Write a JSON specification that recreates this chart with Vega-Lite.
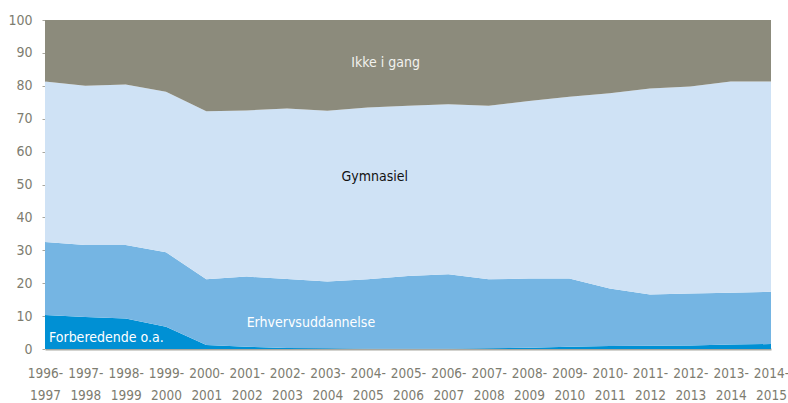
{
  "$schema": "https://vega.github.io/schema/vega-lite/v6.json",
  "width": 726,
  "height": 329,
  "autosize": {"type": "none"},
  "padding": {"left": 45, "top": 20, "right": 17, "bottom": 54},
  "background": "white",
  "config": {
    "view": {"stroke": null},
    "font": "DejaVu Sans Condensed",
    "axisX": {
      "title": null, "labelAngle": 0,
      "labelExpr": "[slice(datum.value,0,5), slice(datum.value,5)]",
      "labelFontSize": 13.5, "labelColor": "#7d7c70", "labelLineHeight": 22,
      "labelPadding": 17, "ticks": false, "labelOverlap": false,
      "domainColor": "#a8a79f", "domainWidth": 2
    },
    "axisY": {
      "title": null, "tickCount": 10,
      "grid": false, "labelFontSize": 14, "labelColor": "#7d7c70",
      "labelOverlap": false, "labelFlush": false,
      "labelPadding": 10, "tickSize": 3, "tickColor": "#a8a79f",
      "domainColor": "#d0cfc8", "domainWidth": 1
    }
  },
  "datasets": {
    "main": [
      {"yr": "1996-1997", "cat": "Forberedende o.a.", "ord": 1, "v": 10.3},
      {"yr": "1996-1997", "cat": "Erhvervsuddannelse", "ord": 2, "v": 22.2},
      {"yr": "1996-1997", "cat": "Gymnasiel", "ord": 3, "v": 48.8},
      {"yr": "1996-1997", "cat": "Ikke i gang", "ord": 4, "v": 18.7},
      {"yr": "1997-1998", "cat": "Forberedende o.a.", "ord": 1, "v": 9.7},
      {"yr": "1997-1998", "cat": "Erhvervsuddannelse", "ord": 2, "v": 21.9},
      {"yr": "1997-1998", "cat": "Gymnasiel", "ord": 3, "v": 48.4},
      {"yr": "1997-1998", "cat": "Ikke i gang", "ord": 4, "v": 20.0},
      {"yr": "1998-1999", "cat": "Forberedende o.a.", "ord": 1, "v": 9.3},
      {"yr": "1998-1999", "cat": "Erhvervsuddannelse", "ord": 2, "v": 22.3},
      {"yr": "1998-1999", "cat": "Gymnasiel", "ord": 3, "v": 48.8},
      {"yr": "1998-1999", "cat": "Ikke i gang", "ord": 4, "v": 19.6},
      {"yr": "1999-2000", "cat": "Forberedende o.a.", "ord": 1, "v": 6.8},
      {"yr": "1999-2000", "cat": "Erhvervsuddannelse", "ord": 2, "v": 22.6},
      {"yr": "1999-2000", "cat": "Gymnasiel", "ord": 3, "v": 48.8},
      {"yr": "1999-2000", "cat": "Ikke i gang", "ord": 4, "v": 21.8},
      {"yr": "2000-2001", "cat": "Forberedende o.a.", "ord": 1, "v": 1.2},
      {"yr": "2000-2001", "cat": "Erhvervsuddannelse", "ord": 2, "v": 20.0},
      {"yr": "2000-2001", "cat": "Gymnasiel", "ord": 3, "v": 51.1},
      {"yr": "2000-2001", "cat": "Ikke i gang", "ord": 4, "v": 27.7},
      {"yr": "2001-2002", "cat": "Forberedende o.a.", "ord": 1, "v": 0.7},
      {"yr": "2001-2002", "cat": "Erhvervsuddannelse", "ord": 2, "v": 21.3},
      {"yr": "2001-2002", "cat": "Gymnasiel", "ord": 3, "v": 50.5},
      {"yr": "2001-2002", "cat": "Ikke i gang", "ord": 4, "v": 27.5},
      {"yr": "2002-2003", "cat": "Forberedende o.a.", "ord": 1, "v": 0.3},
      {"yr": "2002-2003", "cat": "Erhvervsuddannelse", "ord": 2, "v": 21.0},
      {"yr": "2002-2003", "cat": "Gymnasiel", "ord": 3, "v": 51.8},
      {"yr": "2002-2003", "cat": "Ikke i gang", "ord": 4, "v": 26.9},
      {"yr": "2003-2004", "cat": "Forberedende o.a.", "ord": 1, "v": 0.2},
      {"yr": "2003-2004", "cat": "Erhvervsuddannelse", "ord": 2, "v": 20.3},
      {"yr": "2003-2004", "cat": "Gymnasiel", "ord": 3, "v": 51.9},
      {"yr": "2003-2004", "cat": "Ikke i gang", "ord": 4, "v": 27.6},
      {"yr": "2004-2005", "cat": "Forberedende o.a.", "ord": 1, "v": 0.1},
      {"yr": "2004-2005", "cat": "Erhvervsuddannelse", "ord": 2, "v": 21.1},
      {"yr": "2004-2005", "cat": "Gymnasiel", "ord": 3, "v": 52.2},
      {"yr": "2004-2005", "cat": "Ikke i gang", "ord": 4, "v": 26.6},
      {"yr": "2005-2006", "cat": "Forberedende o.a.", "ord": 1, "v": 0.1},
      {"yr": "2005-2006", "cat": "Erhvervsuddannelse", "ord": 2, "v": 22.1},
      {"yr": "2005-2006", "cat": "Gymnasiel", "ord": 3, "v": 51.7},
      {"yr": "2005-2006", "cat": "Ikke i gang", "ord": 4, "v": 26.1},
      {"yr": "2006-2007", "cat": "Forberedende o.a.", "ord": 1, "v": 0.1},
      {"yr": "2006-2007", "cat": "Erhvervsuddannelse", "ord": 2, "v": 22.6},
      {"yr": "2006-2007", "cat": "Gymnasiel", "ord": 3, "v": 51.7},
      {"yr": "2006-2007", "cat": "Ikke i gang", "ord": 4, "v": 25.6},
      {"yr": "2007-2008", "cat": "Forberedende o.a.", "ord": 1, "v": 0.2},
      {"yr": "2007-2008", "cat": "Erhvervsuddannelse", "ord": 2, "v": 21.0},
      {"yr": "2007-2008", "cat": "Gymnasiel", "ord": 3, "v": 52.7},
      {"yr": "2007-2008", "cat": "Ikke i gang", "ord": 4, "v": 26.1},
      {"yr": "2008-2009", "cat": "Forberedende o.a.", "ord": 1, "v": 0.4},
      {"yr": "2008-2009", "cat": "Erhvervsuddannelse", "ord": 2, "v": 21.0},
      {"yr": "2008-2009", "cat": "Gymnasiel", "ord": 3, "v": 54.0},
      {"yr": "2008-2009", "cat": "Ikke i gang", "ord": 4, "v": 24.6},
      {"yr": "2009-2010", "cat": "Forberedende o.a.", "ord": 1, "v": 0.7},
      {"yr": "2009-2010", "cat": "Erhvervsuddannelse", "ord": 2, "v": 20.7},
      {"yr": "2009-2010", "cat": "Gymnasiel", "ord": 3, "v": 55.3},
      {"yr": "2009-2010", "cat": "Ikke i gang", "ord": 4, "v": 23.3},
      {"yr": "2010-2011", "cat": "Forberedende o.a.", "ord": 1, "v": 0.9},
      {"yr": "2010-2011", "cat": "Erhvervsuddannelse", "ord": 2, "v": 17.5},
      {"yr": "2010-2011", "cat": "Gymnasiel", "ord": 3, "v": 59.3},
      {"yr": "2010-2011", "cat": "Ikke i gang", "ord": 4, "v": 22.3},
      {"yr": "2011-2012", "cat": "Forberedende o.a.", "ord": 1, "v": 1.0},
      {"yr": "2011-2012", "cat": "Erhvervsuddannelse", "ord": 2, "v": 15.6},
      {"yr": "2011-2012", "cat": "Gymnasiel", "ord": 3, "v": 62.6},
      {"yr": "2011-2012", "cat": "Ikke i gang", "ord": 4, "v": 20.8},
      {"yr": "2012-2013", "cat": "Forberedende o.a.", "ord": 1, "v": 1.1},
      {"yr": "2012-2013", "cat": "Erhvervsuddannelse", "ord": 2, "v": 15.8},
      {"yr": "2012-2013", "cat": "Gymnasiel", "ord": 3, "v": 62.9},
      {"yr": "2012-2013", "cat": "Ikke i gang", "ord": 4, "v": 20.2},
      {"yr": "2013-2014", "cat": "Forberedende o.a.", "ord": 1, "v": 1.4},
      {"yr": "2013-2014", "cat": "Erhvervsuddannelse", "ord": 2, "v": 15.7},
      {"yr": "2013-2014", "cat": "Gymnasiel", "ord": 3, "v": 64.2},
      {"yr": "2013-2014", "cat": "Ikke i gang", "ord": 4, "v": 18.7},
      {"yr": "2014-2015", "cat": "Forberedende o.a.", "ord": 1, "v": 1.5},
      {"yr": "2014-2015", "cat": "Erhvervsuddannelse", "ord": 2, "v": 15.9},
      {"yr": "2014-2015", "cat": "Gymnasiel", "ord": 3, "v": 63.9},
      {"yr": "2014-2015", "cat": "Ikke i gang", "ord": 4, "v": 18.7}
    ],
    "labels": [
      {"yr": "2004-2005", "y": 86.9, "txt": "Ikke i gang", "k": "a"},
      {"yr": "2005-2006", "y": 52.3, "txt": "Gymnasiel", "k": "b"},
      {"yr": "2001-2002", "y": 7.9, "txt": "Erhvervsuddannelse", "k": "c"},
      {"yr": "1996-1997", "y": 3.3, "txt": "Forberedende o.a.", "k": "d"}
    ]
  },
  "layer": [
    {
      "data": {"name": "main"},
      "mark": {"type": "area", "interpolate": "linear"},
      "encoding": {
        "x": {
          "field": "yr", "type": "ordinal",
          "scale": {"type": "point", "padding": 0}
        },
        "y": {
          "field": "v", "type": "quantitative", "stack": "zero",
          "scale": {"domain": [0, 100], "nice": false}
        },
        "color": {
          "field": "cat", "type": "nominal", "legend": null,
          "scale": {
            "domain": ["Forberedende o.a.", "Erhvervsuddannelse", "Gymnasiel", "Ikke i gang"],
            "range": ["#0090d4", "#75b5e3", "#cfe2f5", "#8c8b7c"]
          }
        },
        "order": {"field": "ord", "type": "quantitative"}
      }
    },
    {
      "data": {"name": "labels"},
      "transform": [{"filter": "datum.k == 'a'"}],
      "mark": {"type": "text", "fontSize": 14, "baseline": "middle", "align": "center", "dx": 18, "color": "#f2f2ee"},
      "encoding": {
        "x": {"field": "yr", "type": "ordinal"},
        "y": {"field": "y", "type": "quantitative"},
        "text": {"field": "txt"}
      }
    },
    {
      "data": {"name": "labels"},
      "transform": [{"filter": "datum.k == 'b'"}],
      "mark": {"type": "text", "fontSize": 14, "baseline": "middle", "align": "right", "color": "#111111"},
      "encoding": {
        "x": {"field": "yr", "type": "ordinal"},
        "y": {"field": "y", "type": "quantitative"},
        "text": {"field": "txt"}
      }
    },
    {
      "data": {"name": "labels"},
      "transform": [{"filter": "datum.k == 'c'"}],
      "mark": {"type": "text", "fontSize": 14, "baseline": "middle", "align": "left", "color": "#ffffff"},
      "encoding": {
        "x": {"field": "yr", "type": "ordinal"},
        "y": {"field": "y", "type": "quantitative"},
        "text": {"field": "txt"}
      }
    },
    {
      "data": {"name": "labels"},
      "transform": [{"filter": "datum.k == 'd'"}],
      "mark": {"type": "text", "fontSize": 14, "baseline": "middle", "align": "left", "dx": 4, "color": "#ffffff"},
      "encoding": {
        "x": {"field": "yr", "type": "ordinal"},
        "y": {"field": "y", "type": "quantitative"},
        "text": {"field": "txt"}
      }
    }
  ]
}
